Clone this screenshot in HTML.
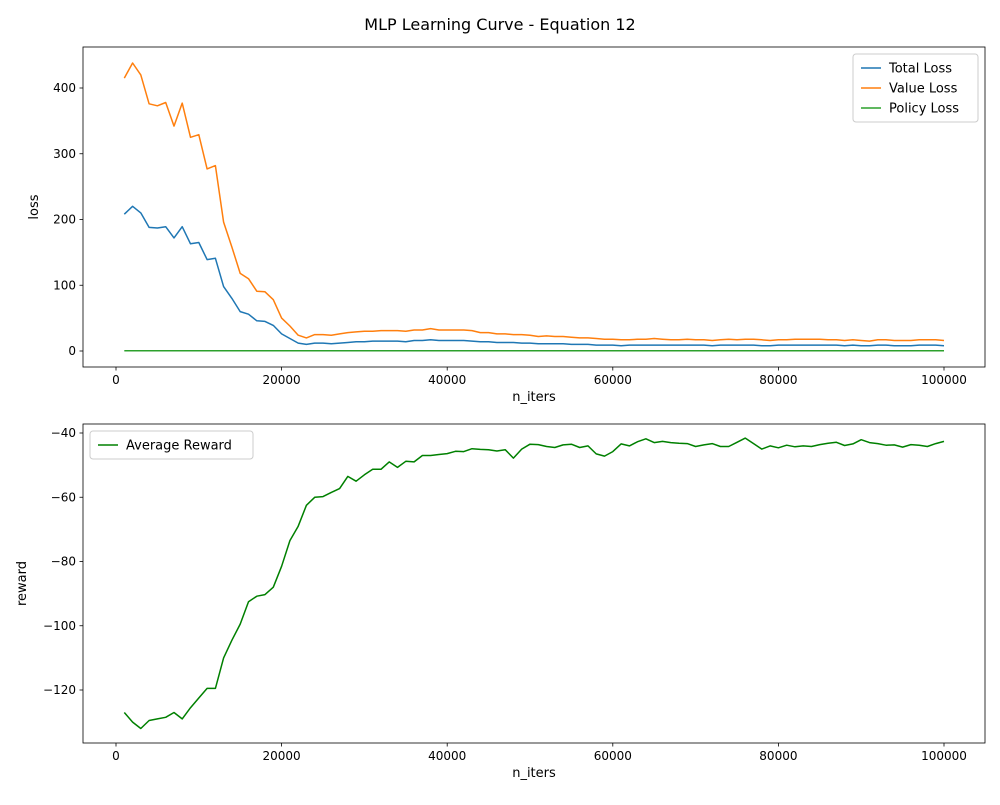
<!DOCTYPE html>
<html><head><meta charset="utf-8"><style>
body{margin:0;background:#fff;font-family:"Liberation Sans","DejaVu Sans",sans-serif}
svg text{font-family:"DejaVu Sans","Liberation Sans",sans-serif;fill:#000}
</style></head><body>
<svg id="c" width="1000" height="800"></svg>
<script>
const valueLoss=[415,438,420,376,373,378,342,377,325,329,277,282,196,158,118,110,91,90,78,50,38,24,20,25,25,24,26,28,29,30,30,31,31,31,30,32,32,34,32,32,32,32,31,28,28,26,26,25,25,24,22,23,22,22,21,20,20,19,18,18,17,17,18,18,19,18,17,17,18,17,17,16,17,18,17,18,18,17,16,17,17,18,18,18,18,17,17,16,17,16,15,17,17,16,16,16,17,17,17,16];
const totalLoss=[208,220,210,188,187,189,172,189,163,165,139,141,98,80,60,56,46,45,39,26,19,12,10,12,12,11,12,13,14,14,15,15,15,15,14,16,16,17,16,16,16,16,15,14,14,13,13,13,12,12,11,11,11,11,10,10,10,9,9,9,8,9,9,9,9,9,9,9,9,9,9,8,9,9,9,9,9,8,8,9,9,9,9,9,9,9,9,8,9,8,8,9,9,8,8,8,9,9,9,8];
const policyLoss=new Array(100).fill(0.5);
const reward=[-127,-130,-132,-129.5,-129,-128.5,-127,-129,-125.5,-122.5,-119.5,-119.5,-110,-104.5,-99.5,-92.5,-90.8,-90.3,-88,-81.5,-73.5,-69,-62.5,-60,-59.8,-58.5,-57.3,-53.5,-55,-53,-51.3,-51.3,-49,-50.7,-48.8,-49,-47,-47,-46.7,-46.4,-45.7,-45.8,-44.9,-45.1,-45.2,-45.6,-45.2,-47.8,-45,-43.5,-43.6,-44.2,-44.5,-43.7,-43.5,-44.5,-44,-46.5,-47.2,-45.8,-43.4,-44,-42.7,-41.8,-43,-42.6,-43,-43.2,-43.3,-44.2,-43.7,-43.3,-44.2,-44.2,-42.9,-41.6,-43.3,-45,-44,-44.6,-43.8,-44.3,-44,-44.2,-43.6,-43.2,-42.9,-43.9,-43.4,-42.1,-43,-43.3,-43.8,-43.7,-44.4,-43.6,-43.8,-44.2,-43.3,-42.6];
const xTicks=[0,20000,40000,60000,80000,100000];
const lossTicks=[0,100,200,300,400];
const rewardTicks=[-120,-100,-80,-60,-40];
const NS="http://www.w3.org/2000/svg";
const svg=document.getElementById('c');
function el(t,a,p){const e=document.createElementNS(NS,t);for(const k in a)e.setAttribute(k,a[k]);(p||svg).appendChild(e);return e;}
const X=v=>116+(v/100000)*828;
function panel(top,bot,y0v,y1v,y0p,y1p,ticks,ylabel,name){
  const Y=v=>y0p+(v-y0v)*(y1p-y0p)/(y1v-y0v);
  const g=el('g',{});
  
  
  el('rect',{x:83,y:top,width:902,height:bot-top,fill:'none',stroke:'#000','stroke-width':0.8},g);
  xTicks.forEach(t=>{const x=X(t);el('line',{x1:x,x2:x,y1:bot,y2:bot+3.5,stroke:'#000','stroke-width':0.8},g);
    const tx=el('text',{x:x,y:bot+17,'font-size':12,'text-anchor':'middle'},g);tx.textContent=t;
    });
  ticks.forEach(t=>{const y=Y(t);el('line',{x1:83,x2:79.5,y1:y,y2:y,stroke:'#000','stroke-width':0.8},g);
    const tx=el('text',{x:76,y:y+4,'font-size':12,'text-anchor':'end'},g);tx.textContent=t<0?'\u2212'+(-t):t;
    });
  const xl=el('text',{x:534,y:bot+34,'font-size':13,'text-anchor':'middle'},g);xl.textContent='n_iters';
  
  const yc=(top+bot)/2;
  const yl=el('text',{x:0,y:0,'font-size':13,'text-anchor':'middle',transform:`translate(${ylabel==='loss'?38:26},${yc}) rotate(-90)`},g);yl.textContent=ylabel;
  
  return {g,Y};
}
function line(p,data,color,name){
  const pts=data.map((v,i)=>X((i+1)*1000).toFixed(1)+','+p.Y(v).toFixed(1)).join(' ');
  const l=el('polyline',{points:pts,fill:'none',stroke:color,'stroke-width':1.5,'stroke-linejoin':'round'},p.g);
  
}
const t=el('text',{x:500,y:30,'font-size':16,'text-anchor':'middle'});t.textContent='MLP Learning Curve - Equation 12';

const p1=panel(47,367,0,400,351,88,lossTicks,'loss','loss-panel');
line(p1,totalLoss,'#1f77b4','total-loss-line');
line(p1,valueLoss,'#ff7f0e','value-loss-line');
line(p1,policyLoss,'#2ca02c','policy-loss-line');
const p2=panel(424,743,-40,-120,433,690,rewardTicks,'reward','reward-panel');
line(p2,reward,'#008000','average-reward-line');
function legend(g,x,y,w,items,name){
  const lg=el('g',{},g);
  el('rect',{x:x,y:y,width:w,height:items.length*20+8,rx:3,fill:'#fff',stroke:'#ccc','stroke-width':1},lg);
  items.forEach((it,i)=>{const yy=y+14+i*20;
    el('line',{x1:x+8,x2:x+28,y1:yy,y2:yy,stroke:it[1],'stroke-width':1.5},lg);
    const tx=el('text',{x:x+36,y:yy+4.5,'font-size':13},lg);tx.textContent=it[0];
    });
}
legend(p1.g,853,54,125,[['Total Loss','#1f77b4'],['Value Loss','#ff7f0e'],['Policy Loss','#2ca02c']],'loss-legend');
legend(p2.g,90,431,163,[['Average Reward','#008000']],'reward-legend');
</script>
</body></html>
